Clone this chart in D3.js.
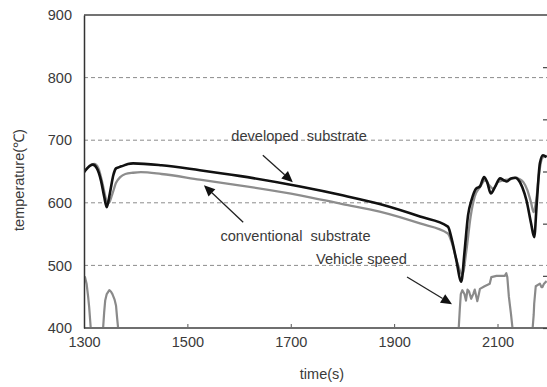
<!DOCTYPE html>
<html>
<head>
<meta charset="utf-8">
<script src="https://cdn.jsdelivr.net/npm/d3@7/dist/d3.min.js"></script>
<style>
  html, body { margin: 0; padding: 0; background: #fff; }
  svg { display: block; font-family: "Liberation Sans", Arial, sans-serif; }
</style>
</head>
<body>
<svg id="chart" width="547" height="387"></svg>
<script>
// Exhaust-side substrate temperature (°C) over time (s), two substrates
const devTime = [1300,1310,1317,1325,1333,1339,1344,1350,1357,1362,1368,1375,1385,1395,1450,1524,1600,1718,1800,1872,1950,2004,2012,2020,2030,2036,2043,2050,2059,2066,2074,2080,2087,2095,2105,2112,2118,2126,2134,2140,2148,2156,2165,2171,2176,2182,2188,2195];
const devTemp = [649,658,661,655,635,610,593,615,645,655,657,659,662,663,660,652,643,626,612,598,578,562,540,510,474,520,580,605,623,626,641,633,615,625,639,636,634,639,640,637,625,604,567,545,600,663,676,673];

const convTime = [1300,1310,1320,1328,1336,1343,1348,1354,1362,1370,1380,1395,1410,1450,1524,1600,1718,1800,1872,1950,2004,2012,2022,2032,2040,2048,2056,2066,2076,2084,2092,2100,2112,2126,2136,2142,2150,2158,2165,2170,2175,2181,2187,2195];
const convTemp = [649,659,662,655,630,605,600,612,632,641,646,648,649,646,637,628,612,598,586,567,551,535,505,485,525,578,610,625,636,628,622,633,636,638,640,638,633,620,600,585,605,650,672,675];

// Vehicle speed (km/h), right-hand scale
const speedTime = [1300,1302,1305,1308,1310,1313,1337,1339,1341,1344,1349,1352,1355,1359,1362,1364,1366,2025,2027,2029,2032,2036,2039,2042,2045,2049,2053,2056,2059,2061,2064,2066,2075,2085,2088,2098,2114,2117,2119,2122,2126,2129,2168,2170,2171,2174,2182,2185,2187,2190,2195];
const speedVal  = [19,19.5,17,12,8,0,0,6,10.5,13,14.5,14,13,11,8.5,4,0,0,7,13,14.5,13,10.5,14.7,14,11.2,13,14.7,12,10.3,13,15,16,17,19.5,20,20,21,19.5,12,5.5,0,0,5,9.3,16,17,15.7,15.7,17,18];

const xTicks = [1300,1500,1700,1900,2100];
const yTicks = [400,500,600,700,800,900];
const gridTicks = [500,600,700,800];
const speedTicks = [0,20,40,60,80,100];

// Text annotations with arrows, in data units (time, temperature)
const labels = [
  { text: "developed\u00a0\u00a0substrate",    t: 1585, v: 699.5 },
  { text: "conventional\u00a0\u00a0substrate", t: 1564, v: 539 },
  { text: "Vehicle speed",                     t: 1749, v: 503 }
];
const arrows = [
  { t0: 1646, v0: 676,   t1: 1704, v1: 633 },
  { t0: 1608, v0: 569,   t1: 1532, v1: 628 },
  { t0: 1925, v0: 481.5, t1: 2012, v1: 438 }
];

const svg = d3.select("#chart");
const W = 547, H = 387;
const mLeft = 84, mTop = 15, mBottom = 328;

const x = d3.scaleLinear().domain([1300, 2100]).range([mLeft, 497.5]);
const y = d3.scaleLinear().domain([400, 900]).range([mBottom, mTop]);
const ys = d3.scaleLinear().domain([0, 120]).range([mBottom, mTop]);

const textColor = "#3a3a3a";

svg.append("defs").append("clipPath").attr("id", "plot")
  .append("rect").attr("x", mLeft).attr("y", mTop - 2).attr("width", W - mLeft).attr("height", mBottom - mTop + 4);

// dashed horizontal gridlines
svg.append("g").selectAll("line").data(gridTicks).join("line")
  .attr("x1", mLeft).attr("x2", W)
  .attr("y1", d => y(d)).attr("y2", d => y(d))
  .attr("stroke", "#8c8c8c").attr("stroke-width", 1)
  .attr("stroke-dasharray", "4,3");

const plot = svg.append("g").attr("clip-path", "url(#plot)");

const speedLine = d3.line().x((d, i) => x(speedTime[i])).y(d => ys(d));
plot.append("path").datum(speedVal)
  .attr("d", speedLine)
  .attr("fill", "none").attr("stroke", "#8a8a8a").attr("stroke-width", 2.2)
  .attr("stroke-linejoin", "round");

const tempLine = times => d3.line()
  .x((d, i) => x(times[i])).y(d => y(d))
  .curve(d3.curveMonotoneX);

plot.append("path").datum(convTemp)
  .attr("d", tempLine(convTime))
  .attr("fill", "none").attr("stroke", "#8d8d8d").attr("stroke-width", 2.3)
  .attr("stroke-linejoin", "round");

plot.append("path").datum(devTemp)
  .attr("d", tempLine(devTime))
  .attr("fill", "none").attr("stroke", "#111").attr("stroke-width", 2.6)
  .attr("stroke-linejoin", "round");

// frame: top border, left axis, bottom axis
svg.append("line").attr("x1", mLeft).attr("x2", W).attr("y1", mTop).attr("y2", mTop)
  .attr("stroke", "#444").attr("stroke-width", 1.5);

const xAxis = svg.append("g").attr("transform", `translate(0,${mBottom})`)
  .call(d3.axisBottom(x).tickValues(xTicks).tickSize(-4).tickPadding(9).tickFormat(d3.format("d")));
xAxis.select(".domain").remove();
xAxis.append("line").attr("x1", mLeft).attr("x2", W).attr("stroke", "#6f6f6f").attr("stroke-width", 2);
xAxis.selectAll(".tick line").attr("stroke", "#555").attr("stroke-width", 1);
xAxis.selectAll(".tick text").attr("fill", textColor).attr("font-size", 14.5)
  .attr("font-family", "Liberation Sans, Arial, sans-serif");

const yAxis = svg.append("g").attr("transform", `translate(${mLeft},0)`)
  .call(d3.axisLeft(y).tickValues(yTicks).tickSize(0).tickPadding(12).tickFormat(d3.format("d")));
yAxis.select(".domain").attr("stroke", "#333").attr("stroke-width", 1.5);
yAxis.selectAll(".tick text").attr("fill", textColor).attr("font-size", 14.5)
  .attr("font-family", "Liberation Sans, Arial, sans-serif");

// right-hand speed axis ticks
const rAxis = svg.append("g").attr("transform", `translate(${W},0)`)
  .call(d3.axisRight(ys).tickValues(speedTicks).tickSize(-4).tickFormat(""));
rAxis.select(".domain").remove();
rAxis.selectAll(".tick line").attr("stroke", "#444").attr("stroke-width", 1.2);

// axis titles
svg.append("text").attr("x", 322).attr("y", 379)
  .attr("text-anchor", "middle")
  .attr("fill", textColor).attr("font-size", 14.5).text("time(s)");

svg.append("text")
  .attr("transform", "translate(24,180) rotate(-90)")
  .attr("text-anchor", "middle")
  .attr("fill", textColor).attr("font-size", 14.5).text("temperature(\u2103)");

// annotations
svg.append("g").selectAll("text").data(labels).join("text")
  .attr("x", d => x(d.t)).attr("y", d => y(d.v))
  .attr("fill", textColor).attr("font-size", 14.6).text(d => d.text);

const ann = svg.append("g");
arrows.forEach(a => {
  const x0 = x(a.t0), y0 = y(a.v0), x1 = x(a.t1), y1 = y(a.v1);
  const ang = Math.atan2(y1 - y0, x1 - x0);
  const len = 11, half = 5;
  const bx = x1 - len * Math.cos(ang), by = y1 - len * Math.sin(ang);
  ann.append("line").attr("x1", x0).attr("y1", y0).attr("x2", bx).attr("y2", by)
    .attr("stroke", "#222").attr("stroke-width", 1.3);
  const px = -Math.sin(ang) * half, py = Math.cos(ang) * half;
  ann.append("path")
    .attr("d", `M${x1},${y1}L${bx + px},${by + py}L${bx - px},${by - py}Z`)
    .attr("fill", "#111");
});
</script>
</body>
</html>
